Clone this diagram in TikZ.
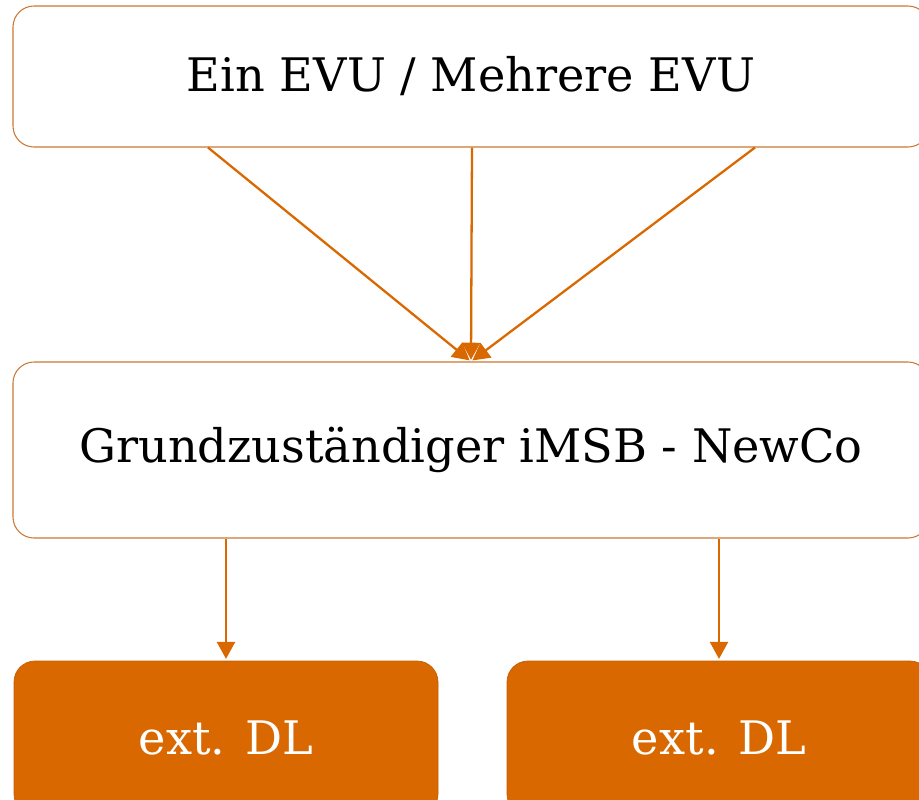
\documentclass[tikz,border=0pt]{standalone}
\usepackage{fontspec}
\setmainfont{DejaVu Serif}
\usepackage{tikz}
\usetikzlibrary{positioning,arrows.meta}

\definecolor{msborange}{RGB}{217,104,0}
\definecolor{msbedge}{RGB}{205,120,50}

\tikzset{
  rolebox/.style={draw=msbedge,line width=0.6pt,fill=white,rounded corners=0.42cm,
    minimum width=18.32cm,minimum height=2.82cm,font=\fontsize{26.3}{32}\selectfont},
  dlbox/.style={draw=msborange!90!black,line width=0.4pt,fill=msborange,rounded corners=0.42cm,
    minimum width=8.48cm,minimum height=3.08cm,text=white,font=\fontsize{26.3}{32}\selectfont},
  flow/.style={color=msborange,line width=1.3pt,-{Triangle[length=0.34cm,width=0.36cm]}}
}

\begin{document}
\begin{tikzpicture}[node distance=7.47cm,on grid]
\useasboundingbox (0,0) rectangle (18.38,-15.98);
\node[rolebox] (evu) at (9.42,-1.53) {Ein EVU / Mehrere EVU};
\node[rolebox,minimum height=3.52cm] (newco) [below=of evu] {Grundzuständiger iMSB - NewCo};
\node[dlbox] (dl_1) [below left=5.76cm and 4.90cm of newco] {ext. DL};
\node[dlbox] (dl_2) [below right=5.76cm and 4.96cm of newco] {ext. DL};
\coordinate (s_1) at ([xshift=-5.26cm]evu.south);
\coordinate (s_2) at ([xshift=0.02cm]evu.south);
\coordinate (s_3) at ([xshift=5.68cm]evu.south);
\coordinate (o_1) at (newco.south -| dl_1.north);
\coordinate (o_2) at (newco.south -| dl_2.north);
\path[flow,shorten >=1pt]
(s_1) edge (newco.north)
(s_2) edge (newco.north)
(s_3) edge (newco.north)
(o_1) edge (dl_1.north)
(o_2) edge (dl_2.north);
\end{tikzpicture}
\end{document}
